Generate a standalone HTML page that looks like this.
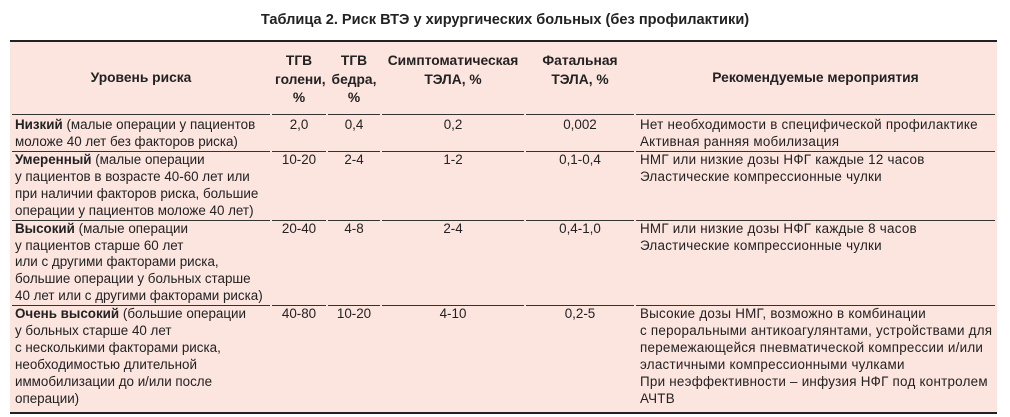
<!DOCTYPE html>
<html><head><meta charset="utf-8"><style>
body{margin:0;width:1010px;height:417px;background:#fff;font-family:"Liberation Sans",Arial,sans-serif;color:#222;overflow:hidden}
.title{position:absolute;top:12px;left:0;width:1010px;text-align:center;font-weight:bold;font-size:14.6px}
table{position:absolute;left:10px;top:40px;width:987px;border-collapse:separate;border-spacing:2px 0;background:#fce4df;border-top:2px solid #222;border-bottom:2px solid #222;font-size:13.4px;line-height:16.9px;table-layout:fixed}
td,th{padding:0 3px;vertical-align:top;border-bottom:1.5px solid #333}
th{font-weight:bold;font-size:13.8px;line-height:18.5px;height:62px;vertical-align:top;padding-top:10px;padding-bottom:0;text-align:center;border-bottom:1px solid #333}
th.m{vertical-align:middle;padding-top:0;height:72px}
tr.r1 td{height:34px;padding-top:2px}
tr.r2 td{height:67px}
tr.r3 td{height:84px}
tr.last td{border-bottom:none;height:106px}
.c{text-align:center}
td.l6{letter-spacing:0.25px;padding-left:4px;white-space:nowrap;overflow:hidden}
</style></head><body>
<div class="title">Таблица 2. Риск ВТЭ у хирургических больных (без профилактики)</div>
<table>
<colgroup><col style="width:258px"><col style="width:54px"><col style="width:52px"><col style="width:142px"><col style="width:108px"><col></colgroup>
<tr><th class="m">Уровень риска</th><th>ТГВ<br>голени,<br>%</th><th>ТГВ<br>бедра,<br>%</th><th>Симптоматическая<br>ТЭЛА, %</th><th>Фатальная<br>ТЭЛА, %</th><th class="m">Рекомендуемые мероприятия</th></tr>
<tr class="r1"><td><b>Низкий</b> (малые операции у пациентов моложе 40 лет без факторов риска)</td><td class="c">2,0</td><td class="c">0,4</td><td class="c">0,2</td><td class="c">0,002</td><td class="l6">Нет необходимости в специфической профилактике<br>Активная ранняя мобилизация</td></tr>
<tr class="r2"><td><b>Умеренный</b> (малые операции<br>у пациентов в возрасте 40-60 лет или при наличии факторов риска, большие операции у пациентов моложе 40 лет)</td><td class="c">10-20</td><td class="c">2-4</td><td class="c">1-2</td><td class="c">0,1-0,4</td><td class="l6">НМГ или низкие дозы НФГ каждые 12 часов<br>Эластические компрессионные чулки</td></tr>
<tr class="r3"><td><b>Высокий</b> (малые операции<br>у пациентов старше 60 лет<br>или с другими факторами риска,<br>большие операции у больных старше<br>40 лет или с другими факторами риска)</td><td class="c">20-40</td><td class="c">4-8</td><td class="c">2-4</td><td class="c">0,4-1,0</td><td class="l6">НМГ или низкие дозы НФГ каждые 8 часов<br>Эластические компрессионные чулки</td></tr>
<tr class="last"><td><b>Очень высокий</b> (большие операции<br>у больных старше 40 лет<br>с несколькими факторами риска,<br>необходимостью длительной<br>иммобилизации до и/или после<br>операции)</td><td class="c">40-80</td><td class="c">10-20</td><td class="c">4-10</td><td class="c">0,2-5</td><td class="l6">Высокие дозы НМГ, возможно в комбинации<br>с пероральными антикоагулянтами, устройствами для<br>перемежающейся пневматической компрессии и/или<br>эластичными компрессионными чулками<br>При неэффективности – инфузия НФГ под контролем<br>АЧТВ</td></tr>
</table>
</body></html>
